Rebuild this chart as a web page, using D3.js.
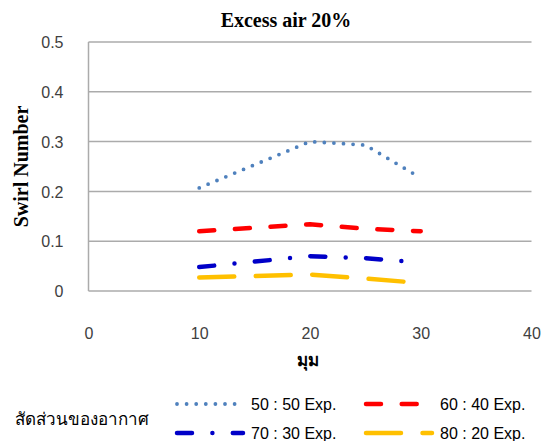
<!DOCTYPE html>
<html><head><meta charset="utf-8">
<script src="https://cdn.jsdelivr.net/npm/d3@7"></script>
<style>body{margin:0;background:#fff}svg{display:block}</style>
</head><body>
<script>
const title = "Excess air 20%";
const yTitle = "Swirl Number";
const xTitle = "มุม";
const legendTitle = "สัดส่วนของอากาศ";
const xTicks = [0, 10, 20, 30, 40];
const yTicks = [0, 0.1, 0.2, 0.3, 0.4, 0.5];
const angles = [10, 20, 25, 30];
const seriesNames = ["50 : 50 Exp.", "60 : 40 Exp.", "70 : 30 Exp.", "80 : 20 Exp."];
const s5050 = [0.207, 0.300, 0.293, 0.227];
const s6040 = [0.120, 0.134, 0.125, 0.120];
const s7030 = [0.048, 0.070, 0.066, 0.057];
const s8020 = [0.027, 0.033, 0.025, 0.016];

const W = 549, H = 441;
const svg = d3.select("body").append("svg").attr("width", W).attr("height", H);
const x = d3.scaleLinear().domain([0, 40]).range([88.5, 531.5]);
const y = d3.scaleLinear().domain([0, 0.5]).range([291, 42]);

const styles = [
  {color: "#4F81BD", width: 3.8, dash: "0 9.6", cap: "round"},
  {color: "#FF0000", width: 4.5, dash: "15 20.7", cap: "round"},
  {color: "#0000C8", width: 4.5, dash: "15 20.4 0 20.4", cap: "round"},
  {color: "#FFC000", width: 4.5, dash: "35 21.5", cap: "round"}
];
const allSeries = [s5050, s6040, s7030, s8020];

// gridlines
svg.append("g").selectAll("line").data(yTicks).join("line")
  .attr("x1", x(0)).attr("x2", x(40))
  .attr("y1", d => y(d)).attr("y2", d => y(d))
  .attr("stroke", "#ABABAB").attr("stroke-width", 1.5);
svg.append("line").attr("x1", x(0)).attr("x2", x(0)).attr("y1", y(0)).attr("y2", y(0.5))
  .attr("stroke", "#ABABAB").attr("stroke-width", 1.5);

// axes labels via d3 axis
const yAxis = svg.append("g").attr("transform", `translate(${x(0) - 25},0)`)
  .call(d3.axisLeft(y).tickValues(yTicks).tickFormat(d3.format(".1f")).tickSize(0).tickPadding(0));
yAxis.select(".domain").remove();
yAxis.selectAll("text").attr("font-family", "'Liberation Sans', Arial, sans-serif")
  .attr("font-size", 16).attr("fill", "#404040").attr("dx", 0).attr("dy", "0.35em")
  .attr("text-anchor", "end").text(d => d === 0 ? "0" : d3.format(".1f")(d));

const xAxis = svg.append("g").attr("transform", `translate(0,${y(0)})`)
  .call(d3.axisBottom(x).tickValues(xTicks).tickSize(0).tickPadding(0));
xAxis.select(".domain").remove();
xAxis.selectAll("text").attr("font-family", "'Liberation Sans', Arial, sans-serif")
  .attr("font-size", 16).attr("fill", "#404040").attr("dy", 0).attr("y", 48);

// series
const line = d3.line().x((d, i) => x(angles[i])).y(d => y(d));
svg.append("g").selectAll("path").data(allSeries).join("path")
  .attr("d", d => line(d)).attr("fill", "none")
  .attr("stroke", (d, i) => styles[i].color)
  .attr("stroke-width", (d, i) => styles[i].width)
  .attr("stroke-dasharray", (d, i) => styles[i].dash)
  .attr("stroke-linecap", (d, i) => styles[i].cap)
  .attr("stroke-linejoin", "round");

// title
svg.append("text").attr("x", 286).attr("y", 27).attr("text-anchor", "middle")
  .attr("font-family", "'Liberation Serif', 'Times New Roman', serif").attr("font-weight", "bold")
  .attr("font-size", 20).attr("fill", "#000").text(title);

svg.append("text").attr("transform", `translate(28,${(y(0) + y(0.5)) / 2}) rotate(-90)`)
  .attr("text-anchor", "middle")
  .attr("font-family", "'Liberation Serif', 'Times New Roman', serif").attr("font-weight", "bold")
  .attr("font-size", 20).attr("fill", "#000").text(yTitle);

svg.append("text").attr("x", 308).attr("y", 366).attr("text-anchor", "middle")
  .attr("font-family", "Tahoma, 'Noto Sans', sans-serif").attr("font-weight", "bold")
  .attr("font-size", 17).attr("fill", "#000").text(xTitle);

// legend
svg.append("text").attr("x", 15).attr("y", 425)
  .attr("font-family", "Tahoma, 'Noto Sans', sans-serif")
  .attr("font-size", 17).attr("fill", "#000").text(legendTitle);

const legPos = [
  {x: 177, y: 404}, {x: 366, y: 404}, {x: 177, y: 433}, {x: 366, y: 433}
];
const leg = svg.append("g").selectAll("g").data(seriesNames).join("g")
  .attr("transform", (d, i) => `translate(${legPos[i].x},${legPos[i].y})`);
leg.append("line").attr("x1", 0).attr("x2", 66).attr("y1", 0).attr("y2", 0)
  .attr("stroke", (d, i) => styles[i].color)
  .attr("stroke-width", (d, i) => styles[i].width)
  .attr("stroke-dasharray", (d, i) => styles[i].dash)
  .attr("stroke-linecap", (d, i) => styles[i].cap);
leg.append("text").attr("x", 74).attr("y", 0).attr("dy", "0.35em")
  .attr("font-family", "'Liberation Sans', Arial, sans-serif")
  .attr("font-size", 16).attr("fill", "#000").text(d => d);
</script>
</body></html>
